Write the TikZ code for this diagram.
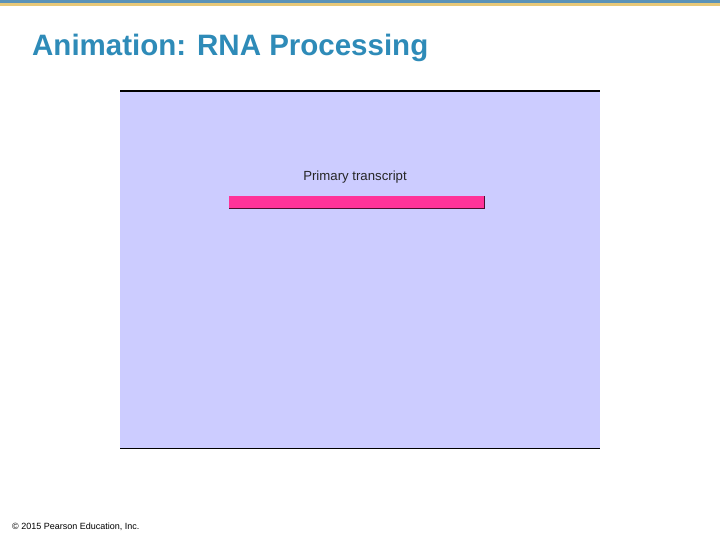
\documentclass[tikz,border=0pt]{standalone}
\usepackage{fontspec}
\setmainfont{Liberation Sans}
\definecolor{titleblue}{HTML}{2E8BB8}
\definecolor{topblue}{HTML}{5B93B8}
\definecolor{topgold}{HTML}{E8C878}
\definecolor{panel}{HTML}{CCCCFF}
\definecolor{pinkbar}{HTML}{FF3399}
\begin{document}
\begin{tikzpicture}[x=1pt,y=-1pt]
\useasboundingbox (0,0) rectangle (720,540);
\fill[white] (0,0) rectangle (720,540);
\fill[topblue] (0,0) rectangle (720,3.5);
\fill[topgold] (0,3.5) rectangle (720,6);
\node[anchor=west,text=titleblue,font=\bfseries\fontsize{29.5}{34}\selectfont,inner sep=0] (title) at (32,48) {Animation: RNA Processing};
\fill[panel] (120,91) rectangle (600,449);
\draw[line width=2.2] (120,91) -- (600,91);
\draw[line width=1.5] (120,448.5) -- (600,448.5);
\node[font=\fontsize{13.2}{15}\selectfont,text=black!85,inner sep=0] (lab) at (355,177) {Primary transcript};
\fill[pinkbar] (229,196) rectangle (485,209);
\draw[black!70!pinkbar,line width=1] (229,208.5) -- (484.5,208.5) -- (484.5,196);
\node[anchor=west,font=\fontsize{9}{10}\selectfont,inner sep=0] (copy) at (12,527) {© 2015 Pearson Education, Inc.};
\end{tikzpicture}
\end{document}
